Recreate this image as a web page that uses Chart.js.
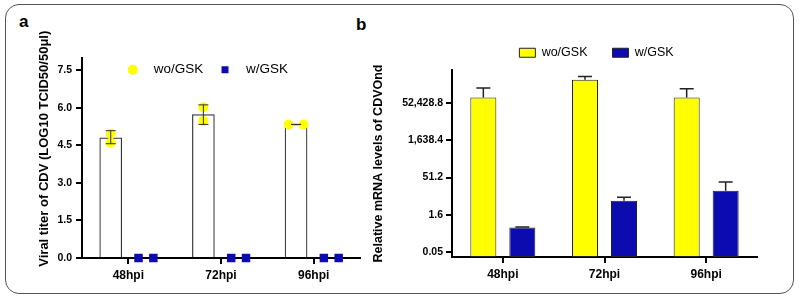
<!DOCTYPE html>
<html>
<head>
<meta charset="utf-8">
<script src="https://cdn.jsdelivr.net/npm/chart.js@4.4.0/dist/chart.umd.min.js"></script>
<style>
html, body { margin: 0; padding: 0; background: #fff; overflow: hidden; }
#frame { position: absolute; left: 5px; top: 4px; width: 789px; height: 290px; box-sizing: border-box;
         border: 1.5px solid #555; border-radius: 14px; }
.wrap { position: absolute; top: 0; height: 302px; }
.tag { position: absolute; font: bold 17px "Liberation Sans", Arial, sans-serif; color: #000; }
</style>
</head>
<body>
<div id="frame"></div>
<div class="tag" style="left:19px;top:12px">a</div>
<div class="tag" style="left:356px;top:15px">b</div>
<div class="wrap" style="left:0;width:370px"><canvas id="chartA"></canvas></div>
<div class="wrap" style="left:370px;width:429px"><canvas id="chartB"></canvas></div>
<script>
const categories = ['48hpi', '72hpi', '96hpi'];

// panel a - viral titer, two wells per time point
const titerWoReps = [[4.96, 4.60], [6.01, 5.47], [5.33, 5.33]];
const titerWReps = [[0, 0], [0, 0], [0, 0]];
const titerWoMean = [4.79, 5.72, 5.33];
const titerWoErrLow = [4.56, 5.33, 5.33];
const titerWoErrHigh = [5.08, 6.11, 5.33];
const titerTicks = [0, 1.5, 3.0, 4.5, 6.0, 7.5];

// panel b - relative mRNA levels (log2 axis)
const mrnaWo = [88000, 459000, 88000];
const mrnaWoErrHigh = [211000, 623000, 198000];
const mrnaW = [0.49, 5.9, 14.9];
const mrnaWErrHigh = [0.51, 8.1, 34];
const mrnaTicks = [0.05, 1.6, 51.2, 1638.4, 52428.8];
const mrnaTickLabels = ['0.05', '1.6', '51.2', '1,638.4', '52,428.8'];

const YELLOW = '#ffff00';
const BLUE = '#0b0bb0';

Chart.defaults.font.family = '"Liberation Sans", Arial, sans-serif';
Chart.defaults.color = '#000';
Chart.defaults.animation = false;

// error bars drawn from the dataset's errorHigh / errorLow arrays
const errorBars = {
  id: 'errorBars',
  afterDatasetsDraw(chart, args, opts) {
    const ctx = chart.ctx;
    const yScale = chart.scales.y;
    chart.data.datasets.forEach((ds, di) => {
      if (!ds.errorHigh) return;
      const meta = chart.getDatasetMeta(di);
      const half = opts.capWidth / 2;
      ctx.save();
      ctx.strokeStyle = opts.color;
      ctx.lineWidth = opts.lineWidth;
      meta.data.forEach((bar, i) => {
        const top = yScale.getPixelForValue(ds.errorHigh[i]);
        const bottom = ds.errorLow ? yScale.getPixelForValue(ds.errorLow[i]) : bar.y;
        ctx.beginPath();
        ctx.moveTo(bar.x, bottom);
        ctx.lineTo(bar.x, top);
        ctx.moveTo(bar.x - half, top);
        ctx.lineTo(bar.x + half, top);
        if (ds.errorLow) {
          ctx.moveTo(bar.x - half, bottom);
          ctx.lineTo(bar.x + half, bottom);
        }
        ctx.stroke();
      });
      ctx.restore();
    });
  }
};

// nudge the legend box after layout
const legendShift = {
  id: 'legendShift',
  afterLayout(chart, args, opts) {
    const lg = chart.legend;
    if (!lg) return;
    lg.left += opts.dx; lg.right += opts.dx;
    lg.top += opts.dy; lg.bottom += opts.dy;
  }
};

// ---------- panel a ----------
// wo/GSK sits left of each tick, w/GSK right of it (in category units)
const groupOffsetA = 0.19, spreadA = 0.08;
const slotX = (i, slot) => i + (slot === 0 ? -groupOffsetA : groupOffsetA);

function replicatePoints(reps, slot) {
  const pts = [];
  reps.forEach((vals, i) => {
    const tied = Math.abs(vals[0] - vals[1]) < 0.2;
    vals.forEach((v, j) => {
      const dx = tied ? (j === 0 ? -spreadA : spreadA) : 0;
      pts.push({ x: slotX(i, slot) + dx, y: v });
    });
  });
  return pts;
}

new Chart(document.getElementById('chartA'), {
  type: 'bar',
  data: {
    labels: categories,
    datasets: [
      {
        type: 'scatter', label: 'wo/GSK', xAxisID: 'xs', yAxisID: 'y', order: 1, clip: false,
        data: replicatePoints(titerWoReps, 0),
        pointStyle: 'circle', pointRadius: 5, backgroundColor: YELLOW, borderWidth: 0
      },
      {
        type: 'scatter', label: 'w/GSK', xAxisID: 'xs', yAxisID: 'y', order: 1, clip: false,
        data: replicatePoints(titerWReps, 1),
        pointStyle: 'rect', pointRadius: 6, backgroundColor: BLUE, borderWidth: 0
      },
      {
        type: 'bar', label: 'wo/GSK mean', xAxisID: 'xs', yAxisID: 'y', order: 2,
        data: titerWoMean.map((v, i) => ({ x: slotX(i, 0), y: v })),
        errorHigh: titerWoErrHigh, errorLow: titerWoErrLow,
        backgroundColor: '#fff', borderColor: '#333', borderWidth: 1.2,
        grouped: false, barThickness: 22
      }
    ]
  },
  options: {
    responsive: true,
    maintainAspectRatio: false,
    layout: { padding: { left: 30, top: 19, right: 10, bottom: 14 } },
    scales: {
      x: {
        type: 'category',
        grid: { display: true, drawOnChartArea: false, offset: false, tickLength: 6, color: '#000', lineWidth: 2 },
        border: { color: '#000', width: 2 },
        ticks: { font: { size: 12, weight: 'bold' }, padding: 4 },
        afterFit: (s) => { s.height = 30; }
      },
      xs: {
        type: 'linear', display: false, offset: false, min: -0.5, max: 2.5
      },
      y: {
        type: 'linear', min: 0, max: 8,
        afterBuildTicks: (s) => { s.ticks = titerTicks.map(v => ({ value: v })); },
        grid: { display: true, drawOnChartArea: false, tickLength: 6, color: '#000', lineWidth: 2 },
        border: { color: '#000', width: 2 },
        ticks: { font: { size: 10.5, weight: 'bold' }, padding: 4, callback: (v) => v.toFixed(1) },
        title: {
          display: true, text: '     Viral titer of CDV (LOG10 TCID50/50\u03bcl)',
          font: { size: 13, weight: 'bold' }, padding: { top: 7, bottom: 2 }
        },
        afterFit: (s) => { s.width = 52; }
      }
    },
    plugins: {
      legend: {
        position: 'top',
        fullSize: false,
        labels: {
          usePointStyle: true, boxHeight: 7, padding: 15,
          font: { size: 13.5 },
          filter: (item, data) => data.datasets[item.datasetIndex].type === 'scatter',
          generateLabels: (chart) => Chart.defaults.plugins.legend.labels.generateLabels(chart)
            .map(l => Object.assign(l, { text: '  ' + l.text }))
        }
      },
      legendShift: { dx: -14, dy: 29 },
      errorBars: { capWidth: 10, lineWidth: 1, color: '#333' },
      tooltip: { enabled: false }
    }
  },
  plugins: [errorBars, legendShift]
});

// ---------- panel b ----------
new Chart(document.getElementById('chartB'), {
  type: 'bar',
  data: {
    labels: categories,
    datasets: [
      {
        label: 'wo/GSK', data: mrnaWo, errorHigh: mrnaWoErrHigh,
        backgroundColor: YELLOW, borderColor: '#222', borderWidth: 1, borderSkipped: false,
        categoryPercentage: 0.767, barPercentage: 0.667
      },
      {
        label: 'w/GSK', data: mrnaW, errorHigh: mrnaWErrHigh,
        backgroundColor: BLUE, borderColor: '#222', borderWidth: 1, borderSkipped: false,
        categoryPercentage: 0.767, barPercentage: 0.667
      }
    ]
  },
  options: {
    responsive: true,
    maintainAspectRatio: false,
    layout: { padding: { left: 0, top: 22.5, right: 42, bottom: 15 } },
    scales: {
      x: {
        grid: { display: true, drawOnChartArea: false, offset: false, tickLength: 6, color: '#000', lineWidth: 2 },
        border: { color: '#000', width: 2 },
        ticks: { font: { size: 12, weight: 'bold' }, padding: 4 },
        afterFit: (s) => { s.height = 30; }
      },
      y: {
        type: 'logarithmic', min: 0.0314, max: 1130000,
        afterBuildTicks: (s) => { s.ticks = mrnaTicks.map(v => ({ value: v })); },
        grid: { display: true, drawOnChartArea: false, tickLength: 6, color: '#000', lineWidth: 2 },
        border: { color: '#000', width: 2 },
        ticks: { font: { size: 10.5, weight: 'bold' }, padding: 3, callback: (v, i) => mrnaTickLabels[i] },
        title: {
          display: true, text: 'Relative mRNA levels of CDVOnd',
          font: { size: 12.5, weight: 'bold' }, padding: { top: 1, bottom: 2 }
        },
        afterFit: (s) => { s.width = 82; }
      }
    },
    plugins: {
      legend: {
        fullSize: false,
        labels: { boxWidth: 16, boxHeight: 9, padding: 25, font: { size: 12.5 } }
      },
      legendShift: { dx: -8, dy: -1 },
      errorBars: { capWidth: 14, lineWidth: 1.5, color: '#222' },
      tooltip: { enabled: false }
    }
  },
  plugins: [errorBars, legendShift]
});
</script>
</body>
</html>
